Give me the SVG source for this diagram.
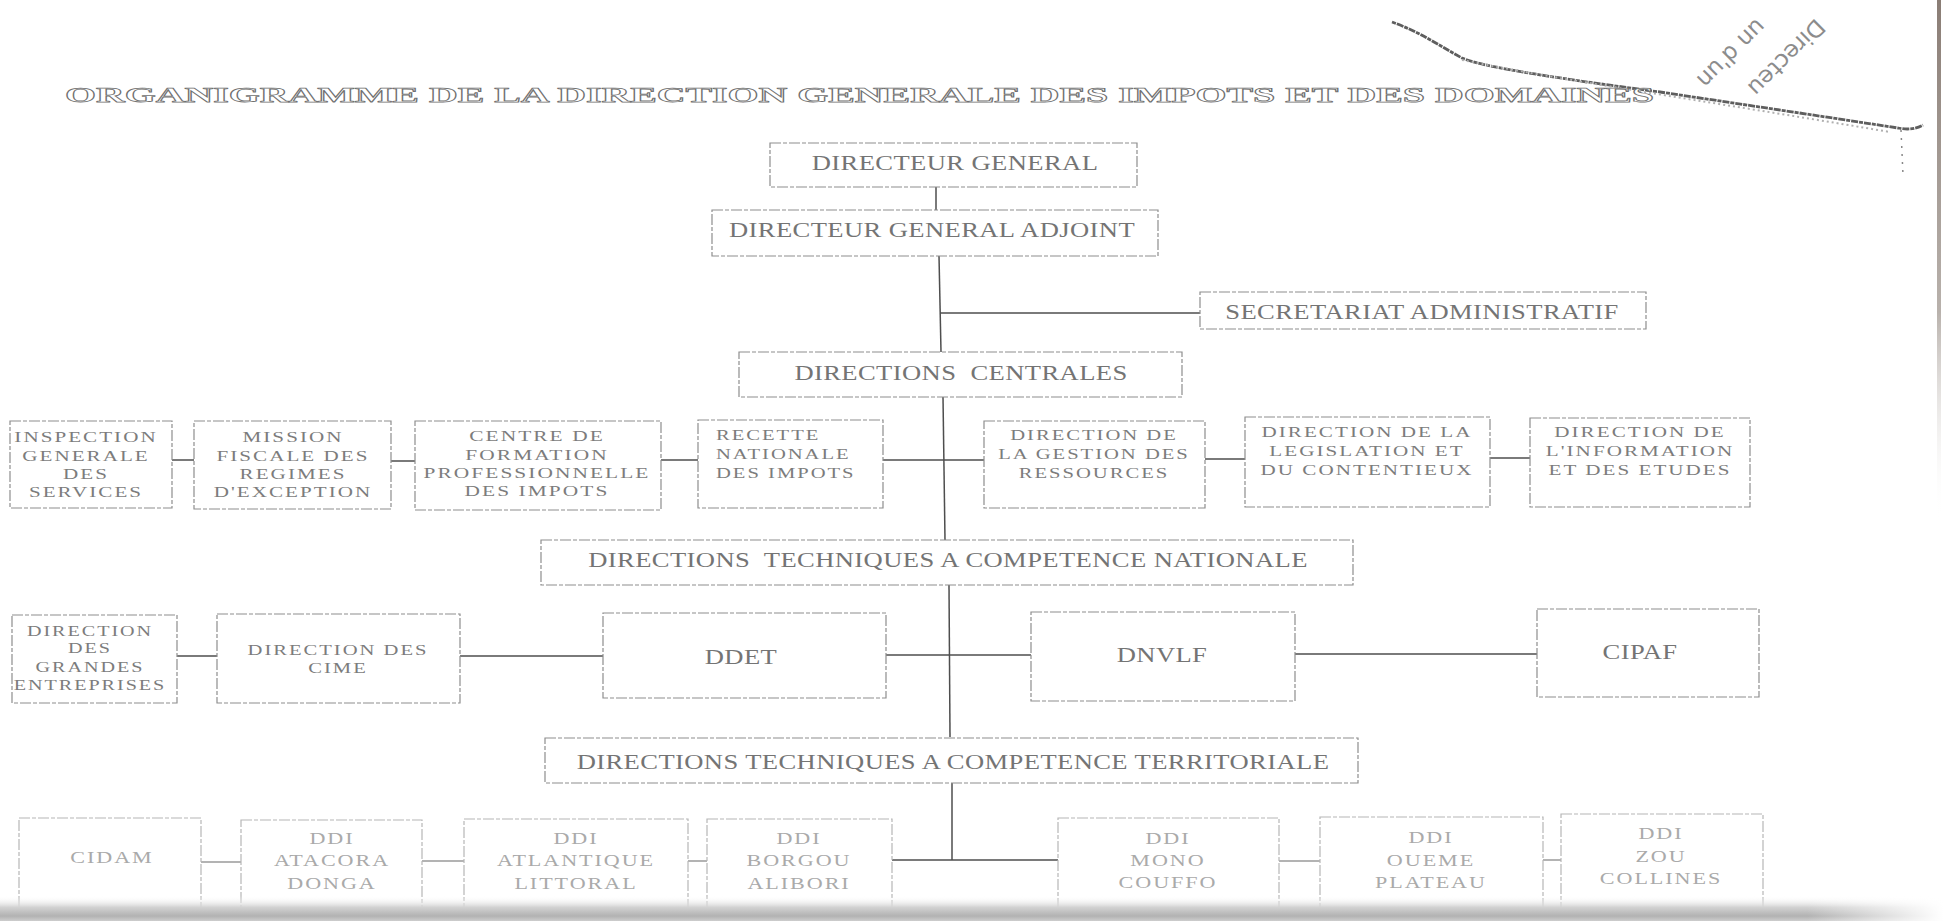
<svg xmlns="http://www.w3.org/2000/svg" width="1943" height="921" viewBox="0 0 1943 921">
<defs>
<style>
.box{fill:none;stroke:#8e8e8e;stroke-width:1.2;stroke-dasharray:11 2 4 2}
.boxl{fill:none;stroke:#b6b6b6;stroke-width:1.2;stroke-dasharray:11 2 4 2}
.con{stroke:#4e4e4e;stroke-width:1.5;fill:none}
.conl{stroke:#9a9a9a;stroke-width:1.5;fill:none}
.big{font-family:"Liberation Serif","Times New Roman",serif;font-size:20px;fill:#747474;letter-spacing:0.3px;text-anchor:middle}
.sm{font-family:"Liberation Serif","Times New Roman",serif;font-size:15.5px;fill:#7c7c7c;letter-spacing:1.5px;text-anchor:middle}
.bt{font-family:"Liberation Serif","Times New Roman",serif;font-size:17px;fill:#aaaaaa;letter-spacing:1.5px;text-anchor:middle}
.title{font-family:"Liberation Serif","Times New Roman",serif;font-size:21px;font-weight:bold;fill:#ffffff;stroke:#707070;stroke-width:0.75}
.hand{font-family:"DejaVu Sans",sans-serif;font-size:23px;fill:#8c8c8c}
</style>
<linearGradient id="bot" x1="0" y1="0" x2="0" y2="1">
<stop offset="0" stop-color="#ffffff" stop-opacity="0"/>
<stop offset="0.45" stop-color="#d2d2d2"/>
<stop offset="0.8" stop-color="#b2b2b2"/>
<stop offset="1" stop-color="#cdcdcd"/>
</linearGradient>
<linearGradient id="edge" x1="0" y1="0" x2="0" y2="1">
<stop offset="0" stop-color="#8a7d75"/>
<stop offset="0.6" stop-color="#9a9088" stop-opacity="0.7"/>
<stop offset="1" stop-color="#ffffff" stop-opacity="0"/>
</linearGradient>
<linearGradient id="botfade" x1="0" y1="0" x2="1" y2="0">
<stop offset="0" stop-color="#fff" stop-opacity="0"/>
<stop offset="0.93" stop-color="#fff" stop-opacity="0"/>
<stop offset="1" stop-color="#fff" stop-opacity="1"/>
</linearGradient>
</defs>
<rect width="1943" height="921" fill="#ffffff"/>

<g id="scan-artifacts">
<path d="M1392,22 C1420,32 1440,46 1462,58 C1480,66 1540,76 1660,92 C1740,104 1820,116 1898,128 C1908,130 1916,129 1923,125" fill="none" stroke="#5e5e5e" stroke-width="2.8" stroke-dasharray="4 1 7 1"/>
<path d="M1462,60 C1560,80 1700,100 1890,132" fill="none" stroke="#b0b0b0" stroke-width="2" stroke-dasharray="2 3"/>
<path d="M1901,130 L1903,175" fill="none" stroke="#888" stroke-width="1.5" stroke-dasharray="2 6"/>
<rect x="1937" y="0" width="4" height="520" fill="url(#edge)"/>
<text class="hand" transform="translate(1781,52) rotate(135)" text-anchor="middle">Directeu</text>
<text class="hand" transform="translate(1726,48) rotate(135)" text-anchor="middle">un d'un</text>
</g>

<g id="title">
<text class="title" x="65" y="102" textLength="1589" lengthAdjust="spacingAndGlyphs">ORGANIGRAMME DE LA DIRECTION GENERALE DES IMPOTS ET DES DOMAINES</text>
</g>

<g id="connectors">
<line class="con" x1="936" y1="187" x2="936" y2="210"/>
<line class="con" x1="939" y1="256" x2="941" y2="352"/>
<line class="con" x1="940" y1="313" x2="1200" y2="313"/>
<line class="con" x1="943" y1="397" x2="945" y2="540"/>
<line class="con" x1="172" y1="460" x2="194" y2="460"/>
<line class="con" x1="391" y1="461" x2="415" y2="461"/>
<line class="con" x1="661" y1="460" x2="698" y2="460"/>
<line class="con" x1="883" y1="460" x2="984" y2="460"/>
<line class="con" x1="1205" y1="459" x2="1245" y2="459"/>
<line class="con" x1="1490" y1="458" x2="1530" y2="458"/>
<line class="con" x1="949" y1="585" x2="950" y2="737"/>
<line class="con" x1="177" y1="656" x2="217" y2="656"/>
<line class="con" x1="460" y1="656" x2="603" y2="656"/>
<line class="con" x1="886" y1="655" x2="1031" y2="655"/>
<line class="con" x1="1295" y1="654" x2="1537" y2="654"/>
<line class="con" x1="952" y1="783" x2="952" y2="860"/>
<line class="conl" x1="201" y1="862" x2="241" y2="862"/>
<line class="conl" x1="422" y1="861" x2="464" y2="861"/>
<line class="conl" x1="688" y1="861" x2="707" y2="861"/>
<line class="con" x1="892" y1="860" x2="1058" y2="860" stroke="#8a8a8a"/>
<line class="conl" x1="1279" y1="861" x2="1320" y2="861"/>
<line class="conl" x1="1543" y1="860" x2="1561" y2="860"/>
</g>

<g id="n-dg">
<rect class="box" x="770" y="143" width="367" height="44"/>
<text class="big" transform="translate(955,0) scale(1.33,1)" y="170">DIRECTEUR GENERAL</text>
</g>
<g id="n-dga">
<rect class="box" x="712" y="210" width="446" height="46"/>
<text class="big" transform="translate(932,0) scale(1.33,1)" y="237">DIRECTEUR GENERAL ADJOINT</text>
</g>
<g id="n-sec">
<rect class="box" x="1200" y="292" width="446" height="37"/>
<text class="big" transform="translate(1422,0) scale(1.33,1)" y="319">SECRETARIAT ADMINISTRATIF</text>
</g>
<g id="n-dc">
<rect class="box" x="739" y="352" width="443" height="45"/>
<text class="big" transform="translate(961,0) scale(1.33,1)" y="380" xml:space="preserve">DIRECTIONS  CENTRALES</text>
</g>

<g id="n-igs">
<rect class="box" x="10" y="421" width="162" height="87"/>
<text class="sm" transform="translate(86,0) scale(1.36,1)"><tspan x="0" y="442">INSPECTION</tspan><tspan x="0" y="461">GENERALE</tspan><tspan x="0" y="479">DES</tspan><tspan x="0" y="497">SERVICES</tspan></text>
</g>
<g id="n-mfre">
<rect class="box" x="194" y="421" width="197" height="88"/>
<text class="sm" transform="translate(293,0) scale(1.36,1)"><tspan x="0" y="442">MISSION</tspan><tspan x="0" y="461">FISCALE DES</tspan><tspan x="0" y="479">REGIMES</tspan><tspan x="0" y="497">D'EXCEPTION</tspan></text>
</g>
<g id="n-cfpi">
<rect class="box" x="415" y="421" width="246" height="89"/>
<text class="sm" transform="translate(537,0) scale(1.38,1)"><tspan x="0" y="441">CENTRE DE</tspan><tspan x="0" y="460">FORMATION</tspan><tspan x="0" y="478">PROFESSIONNELLE</tspan><tspan x="0" y="496">DES IMPOTS</tspan></text>
</g>
<g id="n-rni">
<rect class="box" x="698" y="420" width="185" height="88"/>
<text class="sm" transform="translate(716,0) scale(1.33,1)" style="text-anchor:start"><tspan x="0" y="440">RECETTE</tspan><tspan x="0" y="459">NATIONALE</tspan><tspan x="0" y="478">DES IMPOTS</tspan></text>
</g>
<g id="n-dgr">
<rect class="box" x="984" y="421" width="221" height="87"/>
<text class="sm" transform="translate(1094,0) scale(1.33,1)"><tspan x="0" y="440">DIRECTION DE</tspan><tspan x="0" y="459">LA GESTION DES</tspan><tspan x="0" y="478">RESSOURCES</tspan></text>
</g>
<g id="n-dlc">
<rect class="box" x="1245" y="417" width="245" height="90"/>
<text class="sm" transform="translate(1367,0) scale(1.36,1)"><tspan x="0" y="437">DIRECTION DE LA</tspan><tspan x="0" y="456">LEGISLATION ET</tspan><tspan x="0" y="475">DU CONTENTIEUX</tspan></text>
</g>
<g id="n-die">
<rect class="box" x="1530" y="418" width="220" height="89"/>
<text class="sm" transform="translate(1640,0) scale(1.36,1)"><tspan x="0" y="437">DIRECTION DE</tspan><tspan x="0" y="456">L'INFORMATION</tspan><tspan x="0" y="475">ET DES ETUDES</tspan></text>
</g>

<g id="n-dtn">
<rect class="box" x="541" y="540" width="812" height="45"/>
<text class="big" transform="translate(948,0) scale(1.33,1)" y="567" xml:space="preserve">DIRECTIONS  TECHNIQUES A COMPETENCE NATIONALE</text>
</g>

<g id="n-dge">
<rect class="box" x="12" y="615" width="165" height="88"/>
<text class="sm" transform="translate(90,0) scale(1.3,1)"><tspan x="0" y="636">DIRECTION</tspan><tspan x="0" y="653">DES</tspan><tspan x="0" y="672">GRANDES</tspan><tspan x="0" y="690">ENTREPRISES</tspan></text>
</g>
<g id="n-cime">
<rect class="box" x="217" y="614" width="243" height="89"/>
<text class="sm" transform="translate(338,0) scale(1.33,1)"><tspan x="0" y="655">DIRECTION DES</tspan><tspan x="0" y="673">CIME</tspan></text>
</g>
<g id="n-ddet">
<rect class="box" x="603" y="613" width="283" height="85"/>
<text class="big" transform="translate(741,0) scale(1.33,1)" y="664">DDET</text>
</g>
<g id="n-dnvlf">
<rect class="box" x="1031" y="612" width="264" height="89"/>
<text class="big" transform="translate(1162,0) scale(1.33,1)" y="662">DNVLF</text>
</g>
<g id="n-cipaf">
<rect class="box" x="1537" y="609" width="222" height="88"/>
<text class="big" transform="translate(1640,0) scale(1.33,1)" y="659">CIPAF</text>
</g>

<g id="n-dtt">
<rect class="box" x="545" y="738" width="813" height="45"/>
<text class="big" transform="translate(953,0) scale(1.33,1)" y="769">DIRECTIONS TECHNIQUES A COMPETENCE TERRITORIALE</text>
</g>

<g id="n-cidam">
<rect class="boxl" x="19" y="818" width="182" height="100"/>
<text class="bt" transform="translate(112,0) scale(1.3,1)" y="863">CIDAM</text>
</g>
<g id="n-atacora">
<rect class="boxl" x="241" y="820" width="181" height="98"/>
<text class="bt" transform="translate(332,0) scale(1.3,1)"><tspan x="0" y="844">DDI</tspan><tspan x="0" y="866">ATACORA</tspan><tspan x="0" y="889">DONGA</tspan></text>
</g>
<g id="n-atlantique">
<rect class="boxl" x="464" y="819" width="224" height="99"/>
<text class="bt" transform="translate(576,0) scale(1.3,1)"><tspan x="0" y="844">DDI</tspan><tspan x="0" y="866">ATLANTIQUE</tspan><tspan x="0" y="889">LITTORAL</tspan></text>
</g>
<g id="n-borgou">
<rect class="boxl" x="707" y="819" width="185" height="99"/>
<text class="bt" transform="translate(799,0) scale(1.3,1)"><tspan x="0" y="844">DDI</tspan><tspan x="0" y="866">BORGOU</tspan><tspan x="0" y="889">ALIBORI</tspan></text>
</g>
<g id="n-mono">
<rect class="boxl" x="1058" y="818" width="221" height="100"/>
<text class="bt" transform="translate(1168,0) scale(1.3,1)"><tspan x="0" y="844">DDI</tspan><tspan x="0" y="866">MONO</tspan><tspan x="0" y="888">COUFFO</tspan></text>
</g>
<g id="n-oueme">
<rect class="boxl" x="1320" y="817" width="223" height="101"/>
<text class="bt" transform="translate(1431,0) scale(1.3,1)"><tspan x="0" y="843">DDI</tspan><tspan x="0" y="866">OUEME</tspan><tspan x="0" y="888">PLATEAU</tspan></text>
</g>
<g id="n-zou">
<rect class="boxl" x="1561" y="814" width="202" height="104"/>
<text class="bt" transform="translate(1661,0) scale(1.3,1)"><tspan x="0" y="839">DDI</tspan><tspan x="0" y="862">ZOU</tspan><tspan x="0" y="884">COLLINES</tspan></text>
</g>

<g id="scan-bottom">
<rect x="0" y="896" width="1943" height="25" fill="url(#bot)"/>
<rect x="0" y="896" width="1943" height="25" fill="url(#botfade)"/>
</g>
</svg>
